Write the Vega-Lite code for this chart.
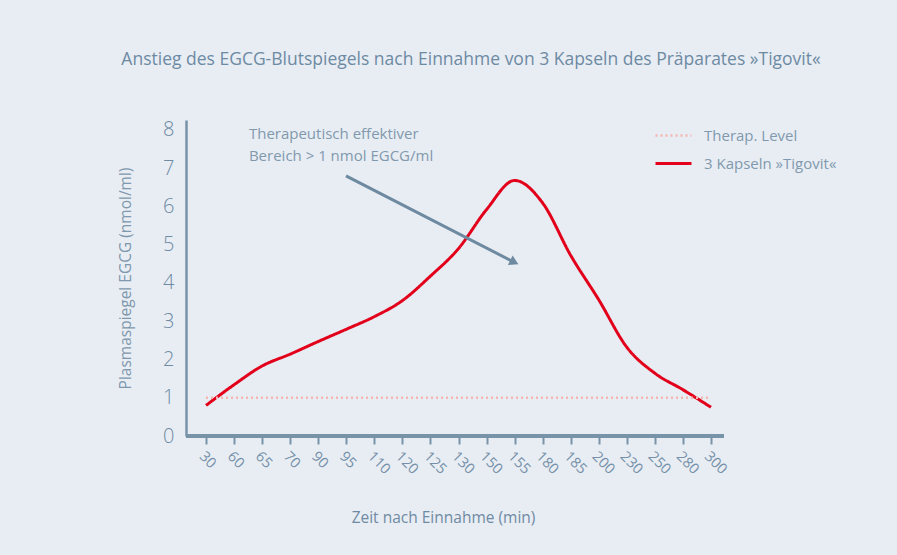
{
  "$schema": "https://vega.github.io/schema/vega-lite/v6.json",
  "width": 538,
  "height": 316,
  "autosize": {"type": "none"},
  "padding": {"left": 186, "top": 120, "right": 173, "bottom": 119},
  "background": "#e8edf4",
  "config": {
    "view": {"stroke": null},
    "font": "Open Sans",
    "axisY": {
      "labelOverlap": false,
      "ticks": false,
      "labelFontSize": 20,
      "labelFontWeight": 300,
      "labelColor": "#6f8ba3",
      "labelPadding": 12,
      "domainColor": "#7892a8",
      "domainWidth": 2.5,
      "titleFontSize": 15.5,
      "titleFontWeight": "normal",
      "titleColor": "#7f98ad",
      "titlePadding": 29,
      "grid": false
    }
  },
  "title": {
    "text": "Anstieg des EGCG-Blutspiegels nach Einnahme von 3 Kapseln des Präparates »Tigovit«",
    "fontSize": 17.5,
    "fontWeight": "normal",
    "color": "#6d8aa3",
    "anchor": "middle",
    "dx": 16,
    "offset": 48
  },
  "layer": [
    {
      "data": {
        "values": [
          {"zeit": "30", "reihe": "3 Kapseln »Tigovit«", "wert": 0.80},
          {"zeit": "60", "reihe": "3 Kapseln »Tigovit«", "wert": 1.34},
          {"zeit": "65", "reihe": "3 Kapseln »Tigovit«", "wert": 1.83},
          {"zeit": "70", "reihe": "3 Kapseln »Tigovit«", "wert": 2.14},
          {"zeit": "90", "reihe": "3 Kapseln »Tigovit«", "wert": 2.47},
          {"zeit": "95", "reihe": "3 Kapseln »Tigovit«", "wert": 2.79},
          {"zeit": "110", "reihe": "3 Kapseln »Tigovit«", "wert": 3.12},
          {"zeit": "120", "reihe": "3 Kapseln »Tigovit«", "wert": 3.54},
          {"zeit": "125", "reihe": "3 Kapseln »Tigovit«", "wert": 4.18},
          {"zeit": "130", "reihe": "3 Kapseln »Tigovit«", "wert": 4.90},
          {"zeit": "150", "reihe": "3 Kapseln »Tigovit«", "wert": 5.92},
          {"zeit": "155", "reihe": "3 Kapseln »Tigovit«", "wert": 6.68},
          {"zeit": "180", "reihe": "3 Kapseln »Tigovit«", "wert": 6.09},
          {"zeit": "185", "reihe": "3 Kapseln »Tigovit«", "wert": 4.72},
          {"zeit": "200", "reihe": "3 Kapseln »Tigovit«", "wert": 3.56},
          {"zeit": "230", "reihe": "3 Kapseln »Tigovit«", "wert": 2.32},
          {"zeit": "250", "reihe": "3 Kapseln »Tigovit«", "wert": 1.64},
          {"zeit": "280", "reihe": "3 Kapseln »Tigovit«", "wert": 1.21},
          {"zeit": "300", "reihe": "3 Kapseln »Tigovit«", "wert": 0.75},
          {"zeit": "30", "reihe": "Therap. Level", "wert": 1},
          {"zeit": "300", "reihe": "Therap. Level", "wert": 1}
        ]
      },
      "layer": [
        {
          "mark": {"type": "line", "interpolate": "monotone", "strokeCap": "butt"},
          "encoding": {
            "x": {
              "field": "zeit",
              "type": "ordinal",
              "sort": null,
              "scale": {"type": "point", "range": [20, 525], "padding": 0},
              "axis": {
                "title": "Zeit nach Einnahme (min)",
                "labelAngle": 45,
                "labelFontSize": 14.5,
                "labelColor": "#7590a8",
                "tickSize": 8,
                "tickWidth": 2,
                "tickColor": "#7892a8",
                "domain": false,
                "labelPadding": 5,
                "titleFontSize": 15.5,
                "titleFontWeight": "normal",
                "titleColor": "#6f8aa2",
                "titlePadding": 34,
                "titleX": 257,
                "grid": false
              }
            },
            "y": {
              "field": "wert",
              "type": "quantitative",
              "scale": {"domain": [0, 8.26], "nice": false},
              "axis": {"title": "Plasmaspiegel EGCG (nmol/ml)", "values": [0, 1, 2, 3, 4, 5, 6, 7, 8]}
            },
            "color": {
              "field": "reihe",
              "type": "nominal",
              "scale": {"domain": ["Therap. Level", "3 Kapseln »Tigovit«"], "range": ["#f4b6ae", "#e2001a"]},
              "legend": {
                "title": null,
                "orient": "none",
                "legendX": 468,
                "legendY": -4,
                "labelFontSize": 15,
                "labelColor": "#8199ad",
                "symbolType": "stroke",
                "symbolSize": 1296,
                "symbolStrokeWidth": 3,
                "labelOffset": 11,
                "rowPadding": -11
              }
            },
            "strokeDash": {
              "field": "reihe",
              "type": "nominal",
              "scale": {"domain": ["Therap. Level", "3 Kapseln »Tigovit«"], "range": [[2, 3], [1, 0]]},
              "legend": {
                "title": null,
                "orient": "none",
                "legendX": 468,
                "legendY": -4,
                "labelFontSize": 15,
                "labelColor": "#8199ad",
                "symbolType": "stroke",
                "symbolSize": 1296,
                "symbolStrokeWidth": 3,
                "labelOffset": 11,
                "rowPadding": -11
              }
            },
            "strokeWidth": {
              "field": "reihe",
              "type": "nominal",
              "scale": {"domain": ["Therap. Level", "3 Kapseln »Tigovit«"], "range": [2.5, 3]},
              "legend": null
            }
          }
        },
        {
          "mark": {"type": "rule", "color": "#7892a8", "strokeWidth": 2.5},
          "encoding": {"y": {"datum": 0, "type": "quantitative", "axis": {"title": "Plasmaspiegel EGCG (nmol/ml)", "values": [0, 1, 2, 3, 4, 5, 6, 7, 8]}}}
        }
      ]
    },
    {
      "layer": [
        {
          "data": {"values": [{"x1": 4.99, "y1": 6.80, "x2": 10.99, "y2": 4.54}]},
          "mark": {"type": "rule", "color": "#6e8aa0", "strokeWidth": 3, "strokeCap": "butt"},
          "encoding": {
            "x": {"field": "x1", "type": "quantitative", "scale": {"domain": [0, 18], "range": [20, 525], "nice": false, "zero": false}, "axis": null},
            "y": {"field": "y1", "type": "quantitative", "scale": {"domain": [0, 8.26], "nice": false}, "axis": {"title": "Plasmaspiegel EGCG (nmol/ml)", "values": [0, 1, 2, 3, 4, 5, 6, 7, 8]}},
            "x2": {"field": "x2"},
            "y2": {"field": "y2"}
          }
        },
        {
          "data": {"values": [{"x2": 10.99, "y2": 4.54}]},
          "mark": {"type": "point", "shape": "triangle-right", "filled": true, "color": "#6e8aa0", "size": 110, "angle": 26.8, "opacity": 1},
          "encoding": {
            "x": {"field": "x2", "type": "quantitative", "scale": {"domain": [0, 18], "range": [20, 525], "nice": false, "zero": false}, "axis": null},
            "y": {"field": "y2", "type": "quantitative", "scale": {"domain": [0, 8.26], "nice": false}, "axis": {"title": "Plasmaspiegel EGCG (nmol/ml)", "values": [0, 1, 2, 3, 4, 5, 6, 7, 8]}}
          }
        },
        {
          "data": {"values": [{"pos": 1.53, "wert": 8.07, "label": "Therapeutisch effektiver\nBereich > 1 nmol EGCG/ml"}]},
          "mark": {"type": "text", "align": "left", "baseline": "top", "fontSize": 15, "color": "#8199ad", "lineBreak": "\n", "lineHeight": 22},
          "encoding": {
            "x": {"field": "pos", "type": "quantitative", "scale": {"domain": [0, 18], "range": [20, 525], "nice": false, "zero": false}, "axis": null},
            "y": {"field": "wert", "type": "quantitative", "scale": {"domain": [0, 8.26], "nice": false}, "axis": {"title": "Plasmaspiegel EGCG (nmol/ml)", "values": [0, 1, 2, 3, 4, 5, 6, 7, 8]}},
            "text": {"field": "label"}
          }
        }
      ]
    }
  ],
  "resolve": {"scale": {"x": "independent"}, "axis": {"x": "independent"}}
}
